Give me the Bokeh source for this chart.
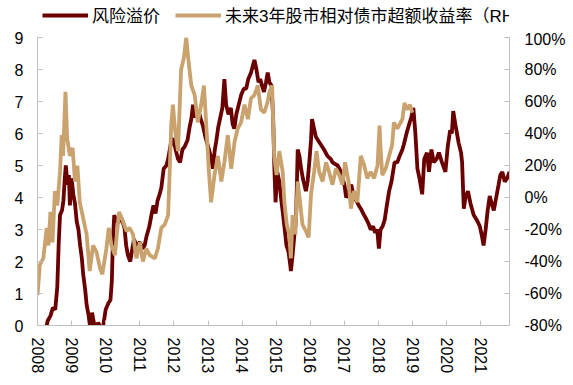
import math
from bokeh.plotting import figure
from bokeh.layouts import column
from bokeh.models import (Range1d, LinearAxis, FixedTicker, Legend, LegendItem,
                          ColumnDataSource)
from bokeh.embed import file_html
from bokeh.resources import INLINE

# ---------------- data ----------------
years = list(range(2008, 2022))
year_labels = [str(y) for y in years]

left_ticks = list(range(0, 10))
right_ticks = list(range(-80, 101, 20))
right_labels = ["%d%%" % v for v in right_ticks]

series_names = ["风险溢价", "未来3年股市相对债市超额收益率（RHS)"]

# 风险溢价 (left axis)
risk_t = [2008.00, 2008.15, 2008.25, 2008.30, 2008.38, 2008.45, 2008.52, 2008.58, 2008.62, 2008.66,
          2008.72, 2008.76, 2008.80, 2008.83, 2008.88, 2008.92, 2008.95, 2009.00, 2009.05, 2009.10,
          2009.15, 2009.20, 2009.25, 2009.30, 2009.34, 2009.40, 2009.44, 2009.50, 2009.55, 2009.60,
          2009.65, 2009.72, 2009.78, 2009.85, 2009.92, 2010.00, 2010.08, 2010.14, 2010.18, 2010.21,
          2010.25, 2010.30, 2010.37, 2010.42, 2010.48, 2010.55, 2010.60, 2010.65, 2010.72, 2010.78,
          2010.83, 2010.90, 2011.00, 2011.08, 2011.14, 2011.20, 2011.28, 2011.34, 2011.40, 2011.46,
          2011.52, 2011.58, 2011.63, 2011.70, 2011.78, 2011.83, 2011.92, 2011.98, 2012.05, 2012.12,
          2012.18, 2012.25, 2012.32, 2012.40, 2012.46, 2012.51, 2012.56, 2012.61, 2012.68, 2012.75,
          2012.80, 2012.85, 2012.92, 2013.00, 2013.04, 2013.10, 2013.14, 2013.20, 2013.24, 2013.30,
          2013.36, 2013.42, 2013.48, 2013.53, 2013.60, 2013.67, 2013.72, 2013.77, 2013.83, 2013.90,
          2013.97, 2014.05, 2014.12, 2014.18, 2014.26, 2014.36, 2014.42, 2014.48, 2014.53, 2014.58,
          2014.64, 2014.70, 2014.75, 2014.80, 2014.86, 2014.91, 2014.94, 2014.98, 2015.03, 2015.09,
          2015.14, 2015.19, 2015.25, 2015.30, 2015.36, 2015.41, 2015.43, 2015.48, 2015.53, 2015.58,
          2015.61, 2015.63, 2015.68, 2015.73, 2015.78, 2015.87, 2015.92, 2015.97, 2016.02, 2016.05,
          2016.10, 2016.16, 2016.22, 2016.31, 2016.40, 2016.50, 2016.60, 2016.65, 2016.72, 2016.80,
          2016.90, 2017.00, 2017.05, 2017.10, 2017.20, 2017.28, 2017.35, 2017.42, 2017.48, 2017.55,
          2017.63, 2017.70, 2017.77, 2017.84, 2017.90, 2017.96, 2018.01, 2018.06, 2018.12, 2018.18,
          2018.25, 2018.31, 2018.38, 2018.47, 2018.55, 2018.62, 2018.70, 2018.74, 2018.82, 2018.90,
          2018.96, 2019.02, 2019.08, 2019.14, 2019.20, 2019.28, 2019.34, 2019.42, 2019.48, 2019.55,
          2019.62, 2019.70, 2019.77, 2019.86, 2019.96, 2020.03, 2020.10, 2020.15, 2020.19, 2020.25,
          2020.35, 2020.42, 2020.45, 2020.50, 2020.55, 2020.62, 2020.70, 2020.79, 2020.88, 2020.97,
          2021.03, 2021.08, 2021.14, 2021.20, 2021.26, 2021.32, 2021.38, 2021.45, 2021.52, 2021.57,
          2021.63, 2021.70, 2021.77, 2021.84]
risk_v = [-0.8, -0.5, -0.1, 0.15, 0.3, 0.55, 0.5, 1.2, 2.5, 3.45,
          3.6, 3.9, 4.6, 5.0, 4.4, 4.7, 3.75, 4.6, 4.1, 3.8,
          3.25, 3.0, 2.5, 2.1, 1.6, 1.1, 0.65, 0.3, -0.1, 0.4,
          0.1, -0.2, 0.1, -0.1, -0.05, 0.5, 0.7, 0.8, 1.4, 2.6,
          3.45, 3.3, 3.2, 3.45, 3.3, 3.05, 2.5, 2.2, 2.0, 2.4,
          2.7, 2.5, 2.6, 2.4, 2.5, 2.8, 3.1, 3.45, 3.75, 3.5,
          3.9, 4.1, 4.3, 4.9, 5.0, 5.2, 5.75, 5.85, 5.5, 5.2,
          5.1, 5.5, 5.6, 5.8, 6.2, 6.45, 6.9, 6.5, 6.7, 6.6,
          6.4, 6.25, 5.9, 5.6, 5.45, 5.2, 4.9, 5.5, 5.75, 6.2,
          6.5, 6.8, 7.7, 6.9, 6.6, 6.8, 6.3, 6.15, 6.6, 6.9,
          7.2, 7.4, 7.4, 7.7, 7.9, 8.3, 8.0, 7.6, 7.7, 7.5,
          7.3, 7.6, 7.9, 7.6, 7.5, 6.5, 5.1, 3.85, 4.8, 4.5,
          4.0, 3.55, 3.0, 2.5, 2.3, 1.9, 1.7, 2.2, 2.8, 3.3,
          4.6, 5.5, 5.3, 4.9, 4.6, 4.2, 4.5, 5.1, 5.8, 6.45,
          6.2, 5.9, 5.8, 5.65, 5.5, 5.3, 5.2, 5.1, 5.05, 5.0,
          4.8, 4.4, 4.0, 4.1, 4.4, 4.0, 3.9, 3.75, 3.65, 3.5,
          3.35, 3.2, 3.0, 3.1, 2.9, 3.0, 2.4, 3.0, 3.1, 3.3,
          3.8, 4.2, 4.5, 5.1, 5.1, 5.3, 5.5, 5.65, 6.0, 6.3,
          6.5, 6.8, 6.0, 4.9, 4.6, 4.1, 5.2, 5.4, 4.8, 5.5,
          5.1, 5.2, 5.4, 5.1, 4.8, 5.6, 6.1, 6.0, 6.7, 6.3,
          5.7, 5.4, 5.1, 3.65, 4.0, 4.2, 3.8, 3.45, 3.3, 3.1,
          2.8, 2.5, 3.0, 3.6, 4.05, 3.8, 3.6, 4.0, 4.4, 4.7,
          4.8, 4.5, 4.6, 4.8]

# 未来3年股市相对债市超额收益率 (right axis, %)
excess_t = [2008.00, 2008.07, 2008.17, 2008.27, 2008.32, 2008.38, 2008.44, 2008.51, 2008.58, 2008.66,
            2008.71, 2008.75, 2008.82, 2008.87, 2008.95, 2009.03, 2009.10, 2009.17, 2009.24, 2009.34,
            2009.44, 2009.53, 2009.63, 2009.73, 2009.83, 2009.90, 2010.02, 2010.09, 2010.17, 2010.27,
            2010.39, 2010.51, 2010.61, 2010.70, 2010.80, 2010.90, 2011.00, 2011.09, 2011.19, 2011.29,
            2011.44, 2011.53, 2011.63, 2011.73, 2011.83, 2011.87, 2011.92, 2011.97, 2012.04, 2012.12,
            2012.21, 2012.29, 2012.36, 2012.43, 2012.51, 2012.61, 2012.70, 2012.80, 2012.88, 2012.95,
            2013.02, 2013.09, 2013.19, 2013.29, 2013.39, 2013.48, 2013.58, 2013.68, 2013.78, 2013.87,
            2013.97, 2014.07, 2014.17, 2014.26, 2014.36, 2014.46, 2014.55, 2014.65, 2014.75, 2014.80,
            2014.88, 2014.94, 2015.01, 2015.09, 2015.19, 2015.24, 2015.31, 2015.38, 2015.43, 2015.48,
            2015.56, 2015.63, 2015.70, 2015.77, 2015.87, 2015.95, 2016.02, 2016.11, 2016.18, 2016.26,
            2016.36, 2016.46, 2016.55, 2016.65, 2016.75, 2016.85, 2016.94, 2017.02, 2017.12, 2017.19,
            2017.28, 2017.38, 2017.48, 2017.58, 2017.67, 2017.77, 2017.87, 2017.97, 2018.03, 2018.06,
            2018.11, 2018.21, 2018.31, 2018.40, 2018.45, 2018.55, 2018.65, 2018.70, 2018.76, 2018.84,
            2018.92, 2018.99]
excess_v = [-61, -42, -38, -19, -30, -9, -28, 4, -5, 16,
            39, 26, 66, 37, 26, 31, 10, 20, -3, -13,
            -23, -46, -30, -34, -44, -48, -32, -19, -30, -36,
            -9, -15, -21, -19, -23, -38, -28, -40, -32, -36,
            -38, -32, -19, -17, -11, 12, 45, 58, 41, 29,
            80, 87, 100, 85, 70, 64, 47, 58, 70, 45,
            18, -3, 14, 26, 10, 22, 39, 18, 35, 43,
            47, 58, 49, 62, 64, 70, 55, 53, 60, 66,
            70, 26, 14, 29, 16, -3, -17, -23, -38, -11,
            -23, 10, -3, -17, -21, -25, 2, 16, 29, 16,
            10, 22, 16, 8, 18, 14, 8, 22, 10, -7,
            4, -3, 26, 20, 12, 16, 12, 20, 45, 30,
            14, 18, 26, 33, 47, 43, 47, 49, 59, 55,
            58, 53]

# ---------------- styling ----------------
FONT = "'Liberation Sans', 'Noto Sans CJK SC', sans-serif"
AXIS_COLOR = "#BFBFBF"
RED = "#6B0000"
TAN = "#C9A26E"
LW = 3.8

red_src = ColumnDataSource(dict(x=risk_t, y=risk_v))
tan_src = ColumnDataSource(dict(x=excess_t, y=excess_v))

# ---------------- main chart ----------------
p = figure(width=568, height=346,
           x_range=Range1d(2008, 2021.84), y_range=Range1d(0, 9),
           output_backend="svg", toolbar_location=None,
           min_border_left=37, min_border_top=7, min_border_right=58,
           min_border_bottom=50)
p.extra_y_ranges = {"rhs": Range1d(-80, 100)}
p.outline_line_color = None
p.xgrid.visible = False
p.ygrid.visible = False

r_red = p.line("x", "y", source=red_src, line_color=RED, line_width=LW)
r_tan = p.line("x", "y", source=tan_src, line_color=TAN, line_width=LW,
               y_range_name="rhs")


def style_axis(ax, standoff):
    ax.axis_line_color = AXIS_COLOR
    ax.axis_line_width = 1
    ax.major_tick_line_color = AXIS_COLOR
    ax.major_tick_in = 5
    ax.major_tick_out = 0
    ax.minor_tick_line_color = None
    ax.major_label_text_font = FONT
    ax.major_label_text_font_size = "16px"
    ax.major_label_text_color = "#000000"
    ax.major_label_standoff = standoff


xa = p.xaxis[0]
xa.ticker = FixedTicker(ticks=years)
xa.major_label_overrides = {y: lab for y, lab in zip(years, year_labels)}
style_axis(xa, 12)
xa.major_label_orientation = "vertical"

ya = p.yaxis[0]
ya.ticker = FixedTicker(ticks=left_ticks)
style_axis(ya, 14)

ra = LinearAxis(y_range_name="rhs", ticker=FixedTicker(ticks=right_ticks))
ra.major_label_overrides = {v: lab for v, lab in zip(right_ticks, right_labels)}
style_axis(ra, 15)
p.add_layout(ra, "right")

# ---------------- legend strip (separate figure above) ----------------
lg = figure(width=568, height=30, x_range=Range1d(0, 1), y_range=Range1d(0, 1),
            output_backend="svg", toolbar_location=None,
            x_axis_location=None, y_axis_location=None,
            min_border_left=0, min_border_right=0, min_border_top=0,
            min_border_bottom=0)
lg.outline_line_color = None
lg.xgrid.visible = False
lg.ygrid.visible = False
# same series; they fall outside this strip's ranges, only their legend shows
l_red = lg.line("x", "y", source=red_src, line_color=RED, line_width=LW)
l_tan = lg.line("x", "y", source=tan_src, line_color=TAN, line_width=LW)

legend_style = dict(orientation="horizontal", glyph_width=46, glyph_height=18,
                    label_height=18, label_standoff=4, spacing=0, padding=0,
                    margin=0, border_line_alpha=0, background_fill_alpha=0,
                    label_text_font=FONT, label_text_font_size="17px",
                    label_text_color="#000000")

legend1 = Legend(items=[LegendItem(label=series_names[0], renderers=[l_red])],
                 location=(5, 3), label_width=80, **legend_style)
legend2 = Legend(items=[LegendItem(label=series_names[1], renderers=[l_tan])],
                 location=(138, 3), label_width=350, **legend_style)
lg.add_layout(legend1, "center")
lg.add_layout(legend2, "center")

layout = column(lg, p, spacing=0)
open("out.html", "w").write(file_html(layout, INLINE))
